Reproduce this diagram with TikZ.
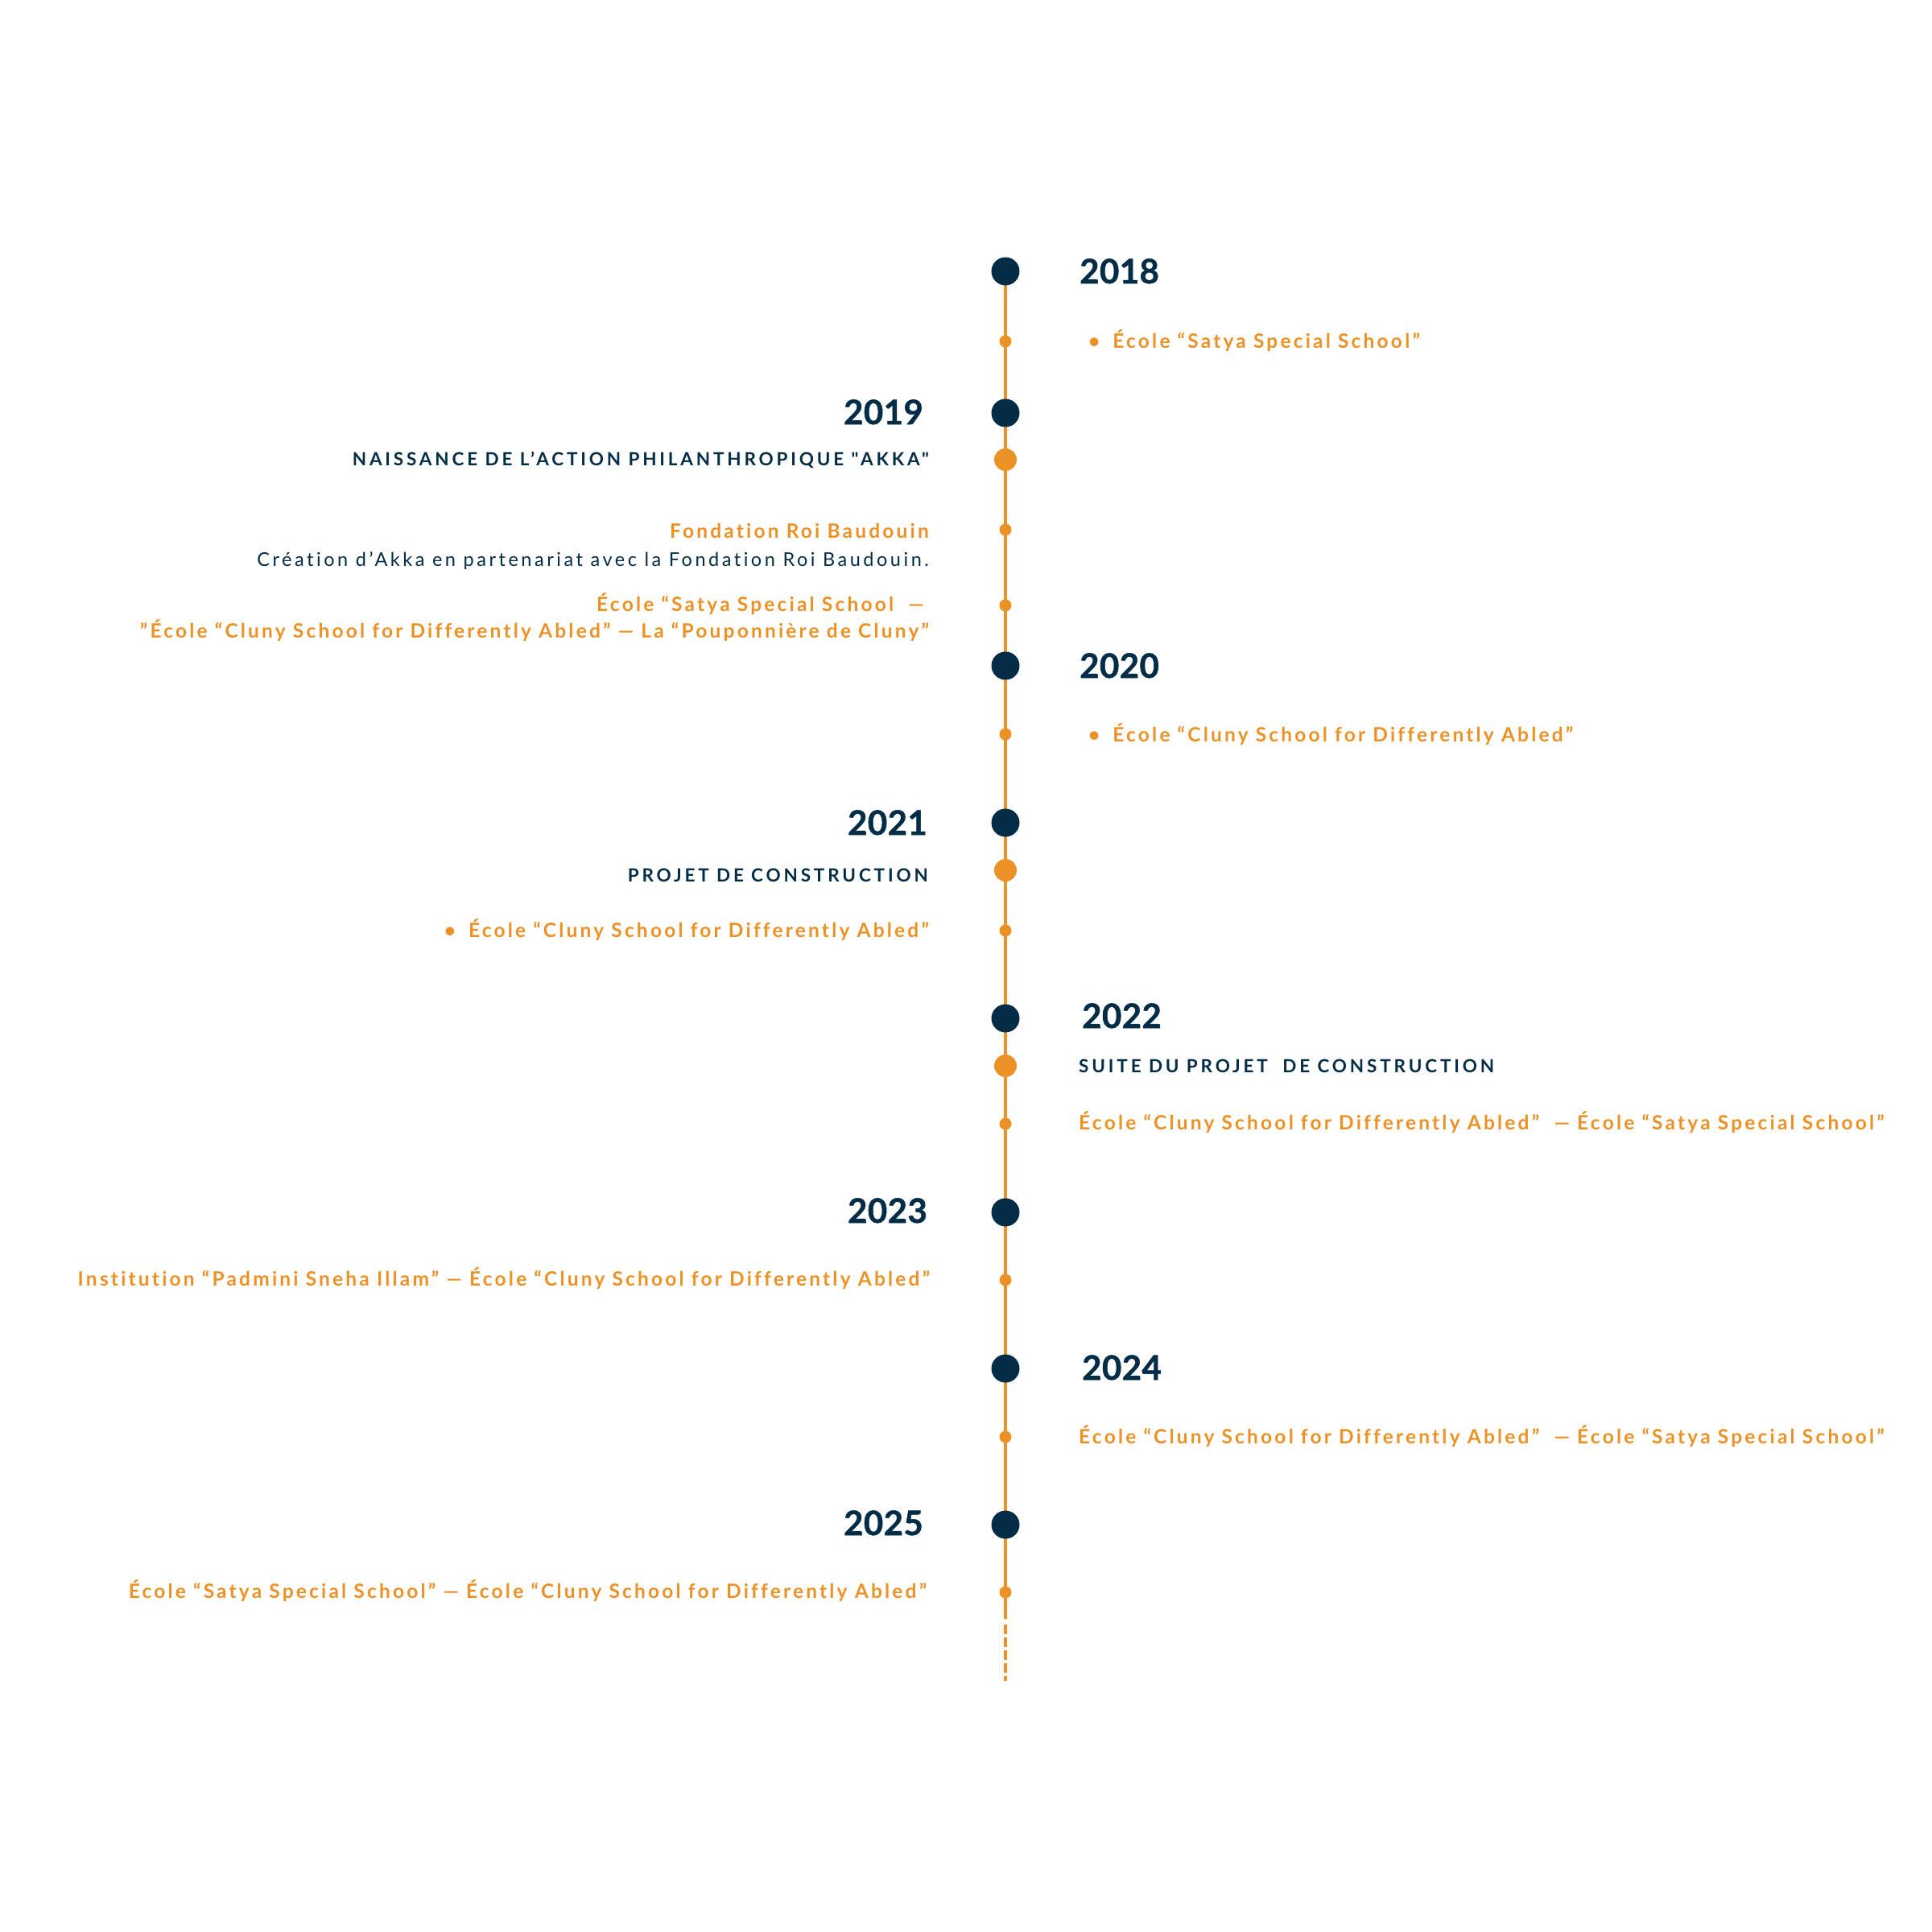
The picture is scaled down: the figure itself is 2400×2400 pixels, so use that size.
\documentclass[tikz,border=0pt]{standalone}
\usepackage{fontspec}
\setmainfont{Lato}
\usetikzlibrary{backgrounds}
\definecolor{navy}{HTML}{032D47}
\definecolor{amber}{HTML}{EC9125}
\newfontfamily\itemfont[LetterSpace=13,Ligatures={NoCommon,NoRare}]{Lato}
\newfontfamily\headfont[LetterSpace=17,Ligatures={NoCommon,NoRare}]{Lato}
\newfontfamily\bodyfont[LetterSpace=15,Ligatures={NoCommon,NoRare}]{Lato}
\newfontfamily\yearfont[LetterSpace=1,FakeBold=1.2]{Lato}
\begin{document}
\begin{tikzpicture}[x=1pt,y=-1pt,
  bigdot/.style={circle,fill=navy,minimum size=35pt,inner sep=0pt},
  middot/.style={circle,fill=amber,minimum size=28pt,inner sep=0pt},
  smalldot/.style={circle,fill=amber,minimum size=15pt,inner sep=0pt},
  year/.style={text=navy,font=\yearfont\bfseries\fontsize{42}{50}\selectfont,inner sep=0pt},
  item/.style={text=amber,font=\itemfont\bfseries\fontsize{24.5}{29}\selectfont,inner sep=0pt},
  head/.style={text=navy,font=\headfont\bfseries\fontsize{22.5}{27}\selectfont,inner sep=0pt},
  body/.style={text=navy,font=\bodyfont\fontsize{23.5}{28}\selectfont,inner sep=0pt},
  spine/.style={draw=amber,line width=4.3pt}]
\useasboundingbox (0,0) rectangle (2400,2400);
% dots
\node[bigdot] (d18) at (1249,337) {};
\node[smalldot] (s18) at (1249,424) {};
\node[bigdot] (d19) at (1249,513) {};
\node[middot] (m19) at (1249,571) {};
\node[smalldot] (s19a) at (1249,658) {};
\node[smalldot] (s19b) at (1249,752) {};
\node[bigdot] (d20) at (1249,827) {};
\node[smalldot] (s20) at (1249,912) {};
\node[bigdot] (d21) at (1249,1022) {};
\node[middot] (m21) at (1249,1081) {};
\node[smalldot] (s21) at (1249,1156) {};
\node[bigdot] (d22) at (1249,1265) {};
\node[middot] (m22) at (1249,1324) {};
\node[smalldot] (s22) at (1249,1396) {};
\node[bigdot] (d23) at (1249,1506) {};
\node[smalldot] (s23) at (1249,1590) {};
\node[bigdot] (d24) at (1249,1700) {};
\node[smalldot] (s24) at (1249,1785) {};
\node[bigdot] (d25) at (1249,1894) {};
\node[smalldot] (s25) at (1249,1978) {};
\coordinate (solidend) at (1249,2011);
\coordinate (dashstart) at (1249,2018);
\coordinate (dashend) at (1249,2088);
\begin{scope}[on background layer]
\draw[spine] (d18.center) -- (s25.center) -- (solidend);
\draw[spine,dash pattern=on 12pt off 4pt] (dashstart) -- (dashend);
\end{scope}
% 2018
\node[year,anchor=base west] (y18) at (1341,352) {2018};
\node[item,anchor=base west] (t18) at (1352,432) {•\hspace{16pt}École “Satya Special School”};
% 2019
\node[year,anchor=base east] (y19) at (1147,527) {2019};
\node[head,anchor=base east] (h19) at (1154,578) {NAISSANCE DE L’ACTION PHILANTHROPIQUE "AKKA"};
\node[item,anchor=base east] (f19) at (1154,668) {Fondation Roi Baudouin};
\node[body,anchor=base east] (c19) at (1154,703) {Création d’Akka en partenariat avec la Fondation Roi Baudouin.};
\node[item,anchor=base east] (e19a) at (1148,759) {École “Satya Special School~ —};
\node[item,anchor=base east] (e19b) at (1154,792) {”École “Cluny School for Differently Abled” — La “Pouponnière de Cluny”};
% 2020
\node[year,anchor=base west] (y20) at (1341,842) {2020};
\node[item,anchor=base west] (t20) at (1352,921) {•\hspace{16pt}École “Cluny School for Differently Abled”};
% 2021
\node[year,anchor=base east] (y21) at (1152,1037) {2021};
\node[head,anchor=base east] (h21) at (1153,1095) {PROJET DE CONSTRUCTION};
\node[item,anchor=base east] (t21) at (1154,1164) {•\hspace{16pt}École “Cluny School for Differently Abled”};
% 2022
\node[year,anchor=base west] (y22) at (1344,1277) {2022};
\node[head,anchor=base west] (h22) at (1340,1332) {SUITE DU PROJET~ DE CONSTRUCTION};
\node[item,anchor=base west] (t22) at (1340,1403) {École “Cluny School for Differently Abled”~ — École “Satya Special School”};
% 2023
\node[year,anchor=base east] (y23) at (1152,1519) {2023};
\node[item,anchor=base east] (t23) at (1155,1597) {Institution “Padmini Sneha Illam” — École “Cluny School for Differently Abled”};
% 2024
\node[year,anchor=base west] (y24) at (1344,1714) {2024};
\node[item,anchor=base west] (t24) at (1340,1793) {École “Cluny School for Differently Abled”~ — École “Satya Special School”};
% 2025
\node[year,anchor=base east] (y25) at (1147,1907) {2025};
\node[item,anchor=base east] (t25) at (1151,1985) {École “Satya Special School” — École “Cluny School for Differently Abled”};
\end{tikzpicture}
\end{document}
